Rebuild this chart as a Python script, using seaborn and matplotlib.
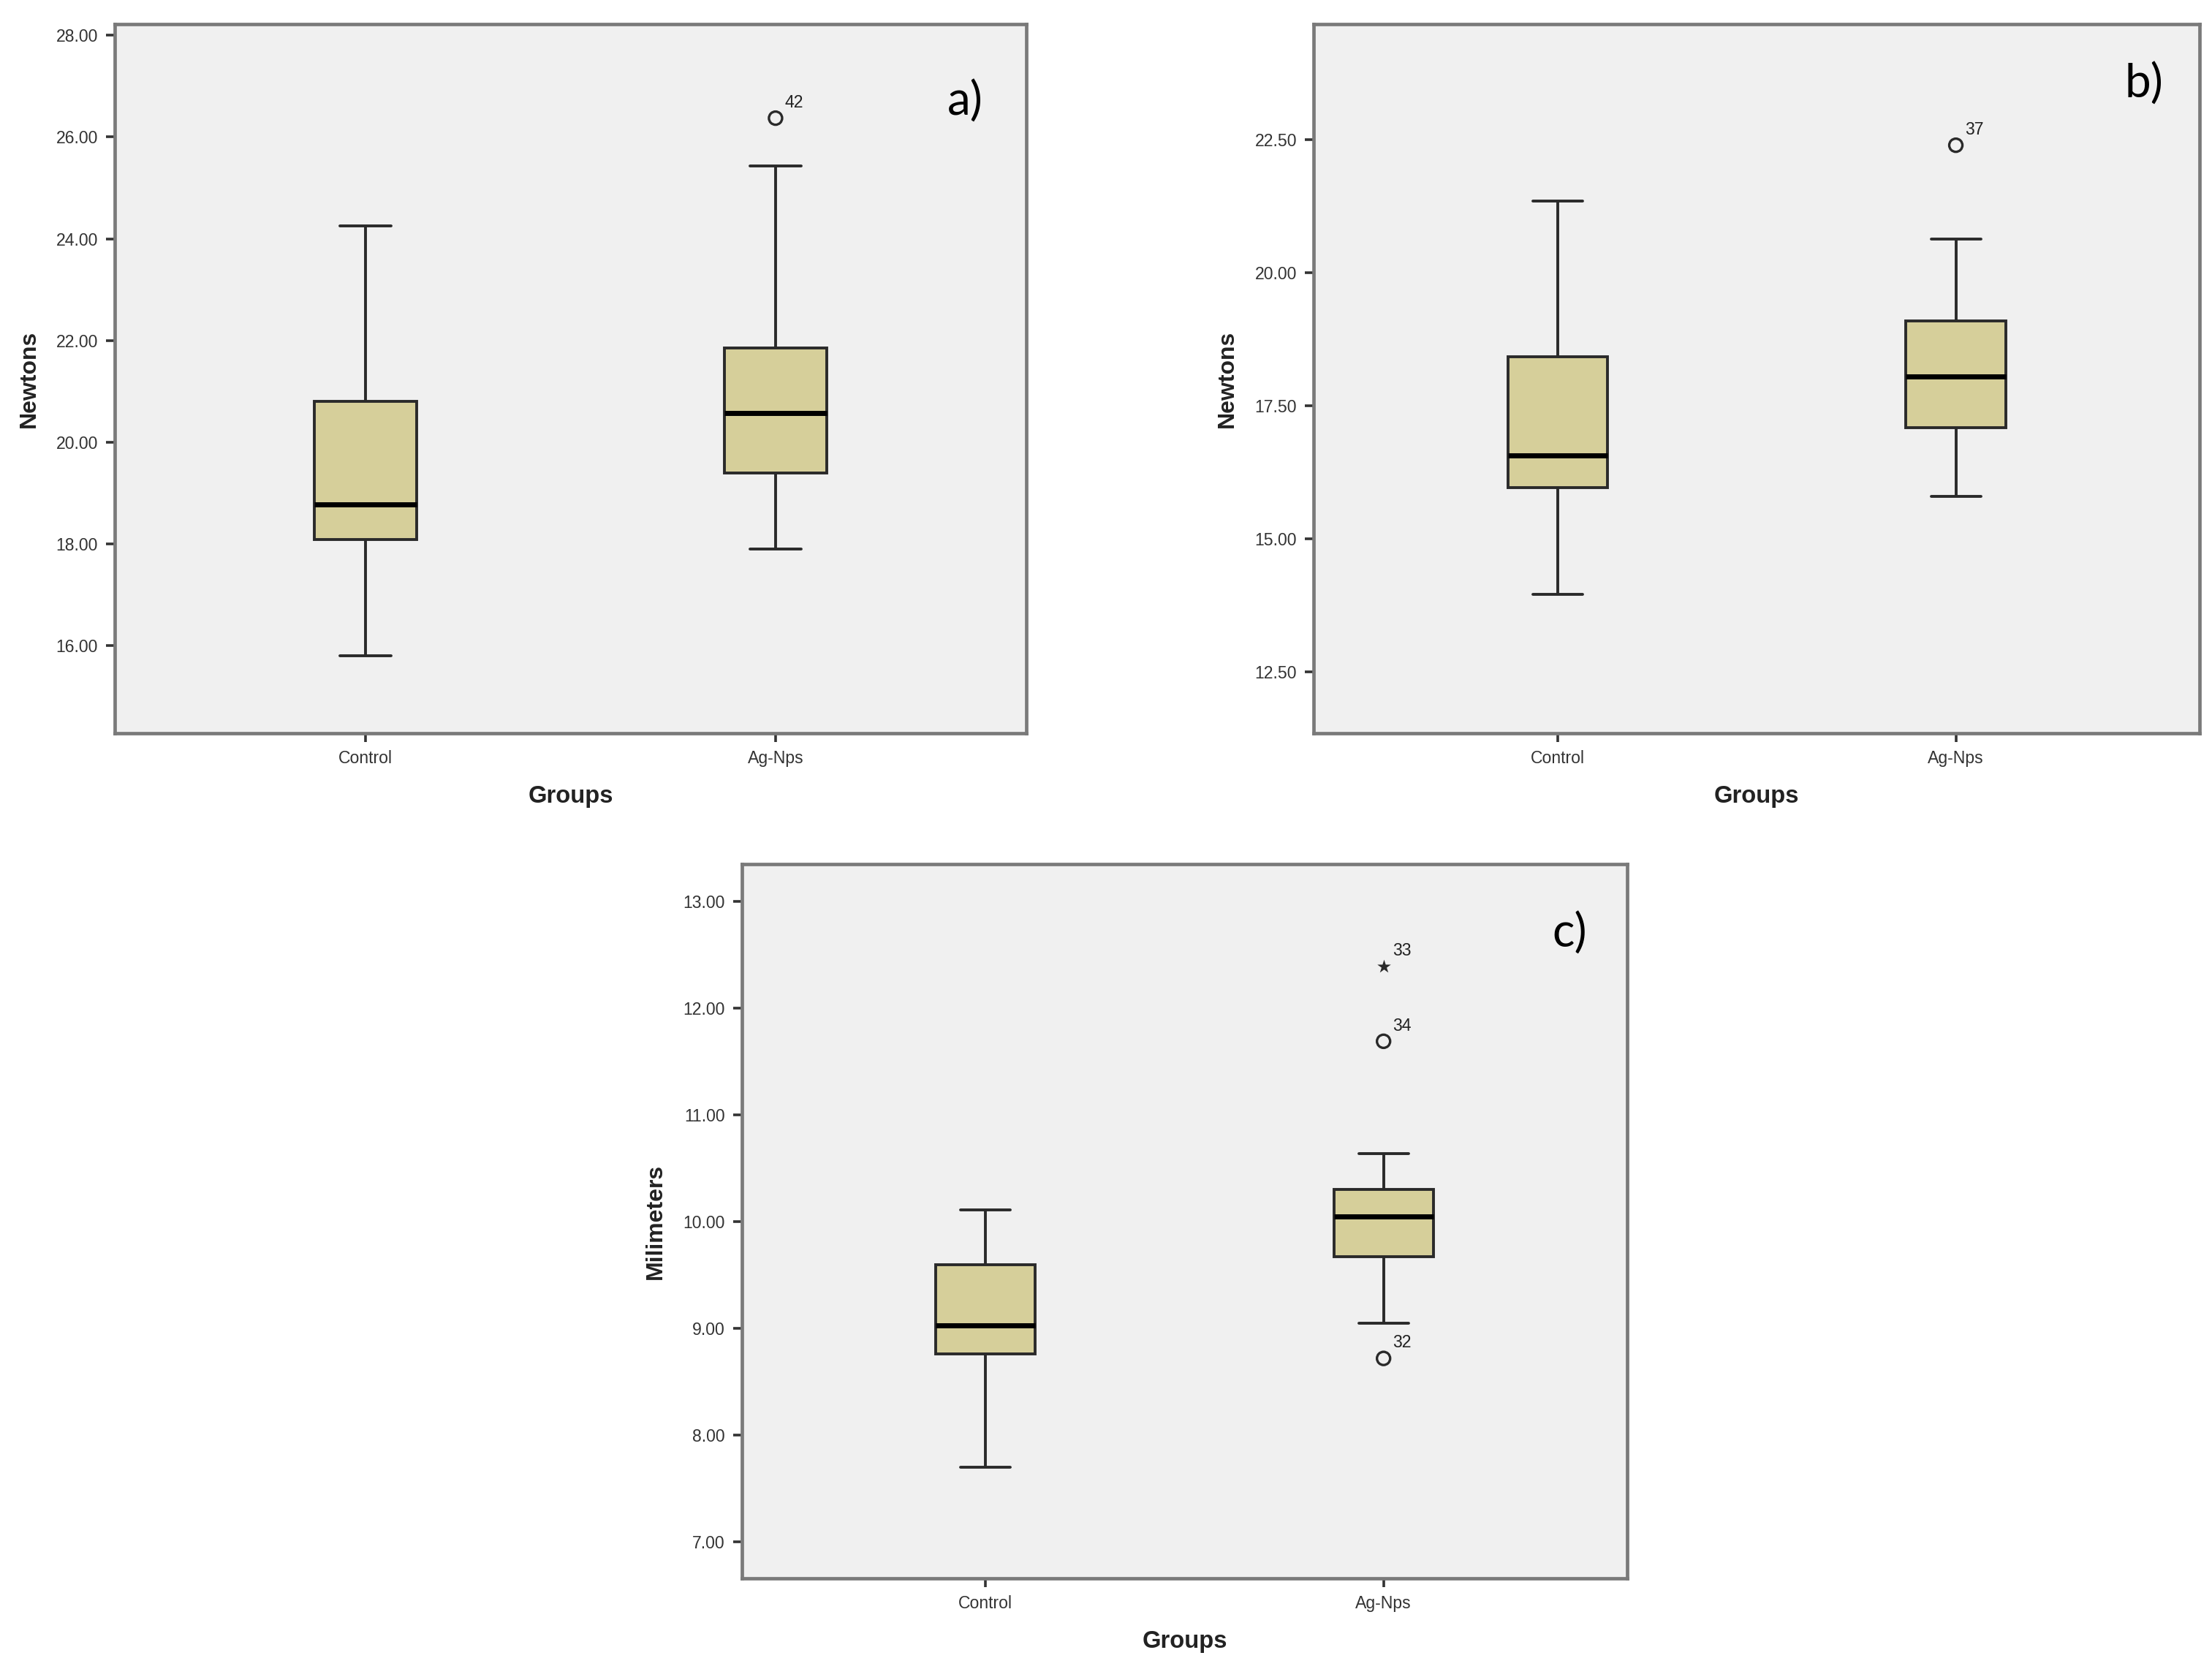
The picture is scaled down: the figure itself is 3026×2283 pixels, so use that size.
import numpy as np
import pandas as pd
import matplotlib
matplotlib.use("Agg")
import matplotlib.pyplot as plt
import seaborn as sns

groups = ["Control", "Ag-Nps"]

# five-number summaries: lower whisker, Q1, median, Q3, upper whisker
a_control = [15.80, 18.09, 18.77, 20.80, 24.25]
a_agnps = [17.90, 19.39, 20.57, 21.85, 25.43]
a_out_vals = [26.37]
a_out_case = ["42"]
a_out_kind = ["o"]

b_control = [13.95, 15.96, 16.56, 18.42, 21.35]
b_agnps = [15.79, 17.09, 18.05, 19.09, 20.63]
b_out_vals = [22.40]
b_out_case = ["37"]
b_out_kind = ["o"]

c_control = [7.70, 8.76, 9.03, 9.60, 10.11]
c_agnps = [9.05, 9.67, 10.05, 10.30, 10.64]
c_out_vals = [12.39, 11.69, 8.72]
c_out_case = ["33", "34", "32"]
c_out_kind = ["*", "o", "o"]

sns.set_theme(style="white")
plt.rcParams["font.family"] = ["Liberation Sans", "DejaVu Sans"]

fill = "#D6CF9A"
line = "#2a2a2a"
frame = "#7a7a7a"


def panel(ax, control, agnps, out_vals, out_case, out_kind, ylim, yticks, ylabel, tag, tag_xy):
    df = pd.DataFrame({
        "group": ["Control"] * len(control) + ["Ag-Nps"] * len(agnps),
        "value": control + agnps,
    })
    sns.boxplot(data=df, x="group", y="value", order=groups, ax=ax,
                width=0.25, whis=np.inf, showfliers=False,
                color=fill, saturation=1, linecolor=line, linewidth=1.4,
                medianprops=dict(color="black", linewidth=2.5))
    out = pd.DataFrame({"group": ["Ag-Nps"] * len(out_vals),
                        "value": out_vals, "kind": out_kind, "case": out_case})
    circ = out[out["kind"] == "o"]
    star = out[out["kind"] == "*"]
    if len(circ):
        n0 = len(ax.collections)
        sns.stripplot(data=circ, x="group", y="value", order=groups, ax=ax,
                      jitter=False, marker="o", size=6.5, color=line,
                      linewidth=1.2, edgecolor=line)
        for coll in ax.collections[n0:]:
            coll.set_facecolor("none")
    if len(star):
        sns.stripplot(data=star, x="group", y="value", order=groups, ax=ax,
                      jitter=False, marker="*", size=7, color=line, linewidth=0)
    for _, r in out.iterrows():
        ax.annotate(r["case"], xy=(groups.index(r["group"]), r["value"]),
                    xytext=(4.5, 3.5), textcoords="offset points",
                    fontsize=8.3, color="#222222", ha="left", va="bottom")

    ax.set_facecolor("#F0F0F0")
    ax.set_xlim(-0.612, 1.612)
    ax.set_ylim(*ylim)
    ax.set_yticks(yticks)
    ax.set_yticklabels([f"{t:.2f}" for t in yticks])
    ax.set_xlabel("Groups", fontsize=11.8, fontweight="bold", labelpad=9, color="#222222")
    ax.set_ylabel(ylabel, fontsize=11.5, fontweight="bold", labelpad=8, color="#222222")
    ax.tick_params(axis="both", length=4.3, width=1.3, color="#333333",
                   labelsize=8.3, labelcolor="#333333", pad=4, direction="out",
                   left=True, bottom=True)
    for s in ax.spines.values():
        s.set_visible(True)
        s.set_color(frame)
        s.set_linewidth(1.7)
    ax.text(tag_xy[0], tag_xy[1], tag, transform=ax.transAxes, fontsize=23,
            family=["Lato", "DejaVu Sans"], ha="center", va="center", color="black")


fig = plt.figure(figsize=(15.13, 11.415), dpi=200)
ax_a = fig.add_axes([0.0519, 0.5607, 0.4121, 0.4249])
ax_b = fig.add_axes([0.5939, 0.5607, 0.4005, 0.4249])
ax_c = fig.add_axes([0.3354, 0.0543, 0.4002, 0.4280])

panel(ax_a, a_control, a_agnps, a_out_vals, a_out_case, a_out_kind,
      (14.28, 28.22), [16, 18, 20, 22, 24, 26, 28], "Newtons", "a)", (0.933, 0.891))
panel(ax_b, b_control, b_agnps, b_out_vals, b_out_case, b_out_kind,
      (11.34, 24.68), [12.5, 15, 17.5, 20, 22.5], "Newtons", "b)", (0.937, 0.915))
panel(ax_c, c_control, c_agnps, c_out_vals, c_out_case, c_out_kind,
      (6.66, 13.35), [7, 8, 9, 10, 11, 12, 13], "Milimeters", "c)", (0.935, 0.903))

fig.savefig("out.png", dpi=200, facecolor="white")
